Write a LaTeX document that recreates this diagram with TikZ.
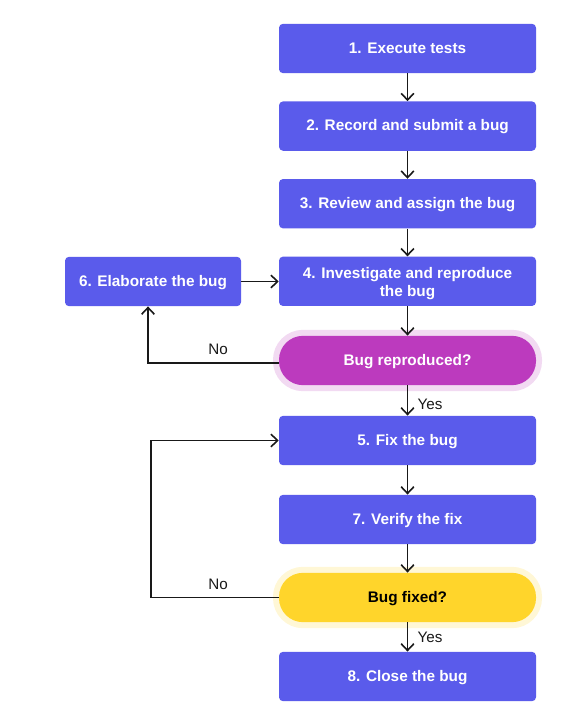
\documentclass[tikz,border=0pt]{standalone}
\usepackage{fontspec}
\setmainfont{Liberation Sans}
\usetikzlibrary{arrows.meta, positioning, calc}

\definecolor{stepblue}{HTML}{5A5BEB}
\definecolor{askpurple}{HTML}{BC3ABE}
\definecolor{askpurplehalo}{HTML}{F2DAF2}
\definecolor{askyellow}{HTML}{FFD52B}
\definecolor{askyellowhalo}{HTML}{FFF7D6}

\begin{document}
\begin{tikzpicture}[
  x=0.75pt, y=-0.75pt,
  font=\fontsize{11.4}{13.5}\selectfont,
  >={Straight Barb[length=5pt, width=9.5pt, line width=1.2pt]},
  block/.style ={align=center, inner sep=0pt, text=white, text height=9pt, text depth=2.2pt,
                 font=\fontsize{11.5}{13.5}\selectfont\bfseries},
  stepbox/.style={block, fill=stepblue, rounded corners=3pt, minimum width=192.75pt, minimum height=37pt},
  sidebox/.style={stepbox, minimum width=132pt},
  ask/.style    ={block, rounded corners=18pt, minimum width=192.75pt, minimum height=37pt},
  askp/.style   ={ask, fill=askpurple, preaction={draw=askpurplehalo, line width=9pt}},
  asky/.style   ={ask, fill=askyellow, text=black, preaction={draw=askyellowhalo, line width=9pt}},
  arr/.style    ={->, line width=1.2pt, draw=black!90},
  lbl/.style    ={inner sep=0pt, text=black!90},
]
\useasboundingbox (0,0) rectangle (570,727);

% --- main column ---
\node[stepbox] (exec) at (407.5,48.5) {1. Execute tests};
\node[stepbox, below=20.8pt of exec]   (record) {2. Record and submit a bug};
\node[stepbox, below=20.8pt of record] (review) {3. Review and assign the bug};
\node[stepbox, below=20.8pt of review, text height=, text depth=] (invest) {\rule{0pt}{11pt}4. Investigate and reproduce\\the bug};
\node[sidebox] (elab) at (153,281.5) {6. Elaborate the bug};
\node[askp] (repro) at (407.5,360.5) {Bug reproduced?};
\node[stepbox] (fix) at (407.5,440.5) {5. Fix the bug};
\node[stepbox] (verify) at (407.5,519.5) {7. Verify the fix};
\node[asky] (fixed) at (407.5,597.5) {Bug fixed?};
\node[stepbox] (close) at (407.5,676.5) {8. Close the bug};

% --- straight arrows ---
\draw[arr] (exec)   -- (record);
\draw[arr] (record) -- (review);
\draw[arr] (review) -- (invest);
\draw[arr] (invest) -- (repro);
\draw[arr] (repro)  -- (fix);
\draw[arr] (fix)    -- (verify);
\draw[arr] (verify) -- (fixed);
\draw[arr] (fixed)  -- (close);
\draw[arr] (elab.east) -- (elab.east -| invest.west);

% --- the two No branches ---
\coordinate (nofork) at (148,363);
\coordinate (noloop) at (151,597);
\draw[arr] (nofork -| repro.west) -- (nofork) -- ([xshift=-3.75pt]elab.south);
\draw[arr] (fixed.west) -- (noloop |- fixed.west) -- (noloop |- fix.west) -- (fix.west);

% --- labels ---
\node[lbl] (no1)  at (218,349) {No};
\node[lbl] (yes1) at (430,404) {Yes};
\node[lbl] (no2)  at (218,584) {No};
\node[lbl] (yes2) at (430,637) {Yes};

\end{tikzpicture}
\end{document}
